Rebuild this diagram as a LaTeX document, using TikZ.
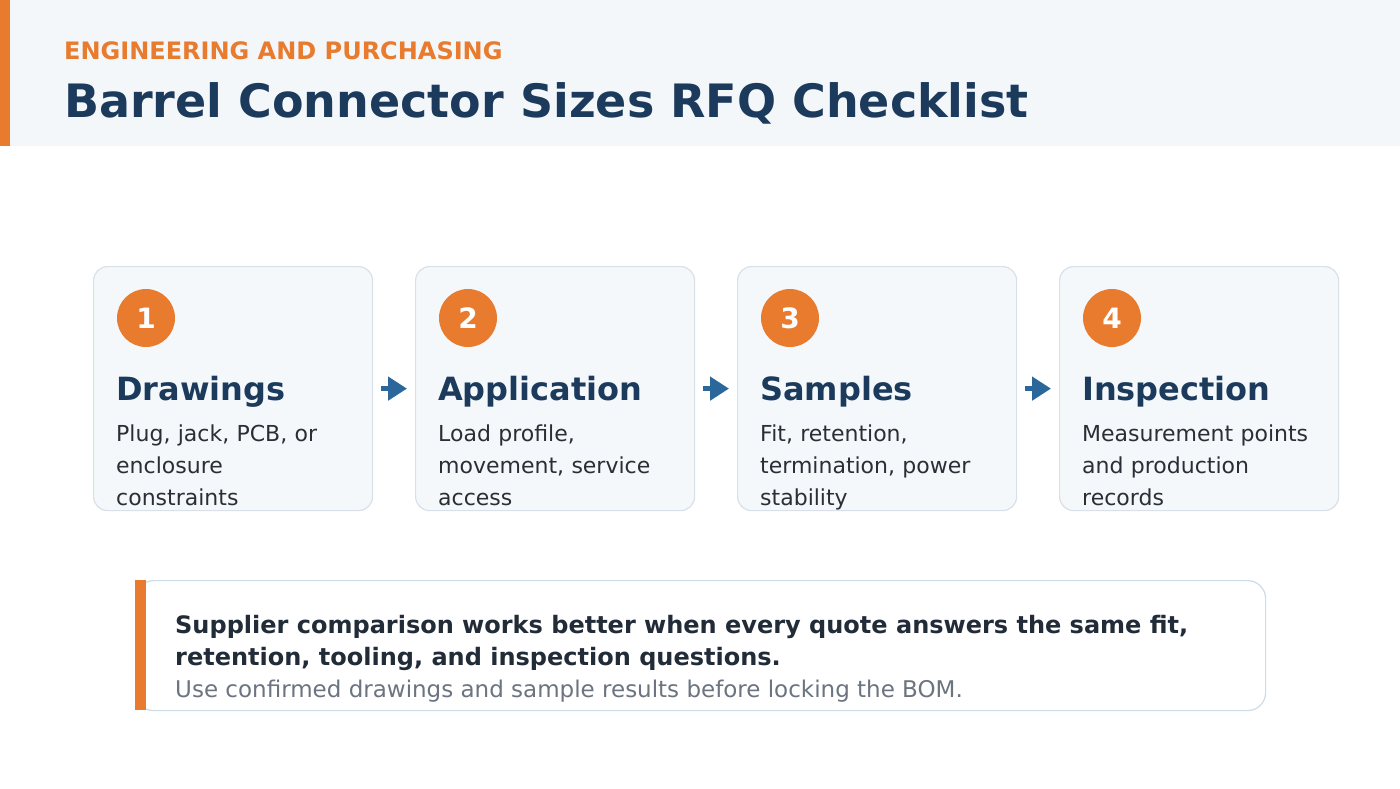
\documentclass[tikz,border=0pt]{standalone}
\usepackage{fontspec}
\setmainfont{DejaVu Sans}
\usetikzlibrary{arrows.meta}
\definecolor{orange}{HTML}{E87B2E}
\definecolor{navy}{HTML}{1B3A5C}
\definecolor{headbg}{HTML}{F3F7FA}
\definecolor{cardbg}{HTML}{F4F8FB}
\definecolor{cardline}{HTML}{D8E1E9}
\definecolor{arrowc}{HTML}{2C679B}
\definecolor{bodytxt}{HTML}{2A2F36}
\definecolor{notetxt}{HTML}{222C38}
\definecolor{graytxt}{HTML}{6B7480}
\definecolor{noteline}{HTML}{CDDCE8}
\tikzset{
  card/.style={draw=cardline, line width=1.2pt, fill=cardbg, rounded corners=14pt, minimum width=279pt, minimum height=244pt, inner sep=0pt},
  badge/.style={circle, fill=orange, minimum size=58pt, inner sep=0pt, text=white, font=\bfseries\fontsize{28}{32}\selectfont},
  cardhead/.style={anchor=base west, inner sep=0pt, text=navy, font=\bfseries\fontsize{32}{38}\selectfont},
  cardbody/.style={anchor=base west, inner sep=0pt, text=bodytxt, text width=250pt, align=left, font=\fontsize{22}{32}\selectfont},
  flow/.style={arrowc, line width=5pt, -{Triangle[length=19pt, width=23pt]}, shorten <=8pt, shorten >=8pt},
  txt/.style={anchor=base west, inner sep=0pt}
}
\begin{document}
\begin{tikzpicture}[x=1pt, y=-1pt]
\useasboundingbox (0,0) rectangle (1400,788);
\fill[white] (0,0) rectangle (1400,788);
% header
\fill[headbg] (0,0) rectangle (1400,146);
\fill[orange] (0,0) rectangle (10,146);
\node[txt, text=orange, font=\bfseries\fontsize{24}{28}\selectfont] (sub) at (64,59) {ENGINEERING AND PURCHASING};
\node[txt, text=navy, font=\bfseries\fontsize{46}{56}\selectfont] (title) at (64,117) {Barrel Connector Sizes RFQ Checklist};
% cards
\foreach \i/\x/\n/\h/\a/\b/\c in {
  1/93/1/Drawings/{Plug, jack, PCB, or}/enclosure/constraints,
  2/415/2/Application/{Load profile,}/{movement, service}/access,
  3/737/3/Samples/{Fit, retention,}/{termination, power}/stability,
  4/1059/4/Inspection/Measurement points/and production/records}{
  \node[card, anchor=north west] (c\i) at (\x,266) {};
  \node[badge] (b\i) at (\x+53,318) {\n};
  \node[cardhead] (h\i) at (\x+23,400) {\h};
  \node[cardbody] (t\i) at (\x+23,441) {\a\\\b\\\c};
}
\draw[flow] (c1.east) -- (c2.west);
\draw[flow] (c2.east) -- (c3.west);
\draw[flow] (c3.east) -- (c4.west);
% note
\node[draw=noteline, line width=1.2pt, fill=white, rounded corners=18pt, minimum width=1130pt, minimum height=130pt, anchor=north west, inner sep=0pt] (note) at (135,580) {};
\fill[orange] (135,580) rectangle (146,710);
\node[txt, text=notetxt, font=\bfseries\fontsize{24}{32}\selectfont] (n1) at (175,633) {Supplier comparison works better when every quote answers the same fit,};
\node[txt, text=notetxt, font=\bfseries\fontsize{24}{32}\selectfont] (n2) at (175,665) {retention, tooling, and inspection questions.};
\node[txt, text=graytxt, font=\fontsize{23}{32}\selectfont] (n3) at (175,697) {Use confirmed drawings and sample results before locking the BOM.};
\end{tikzpicture}
\end{document}
